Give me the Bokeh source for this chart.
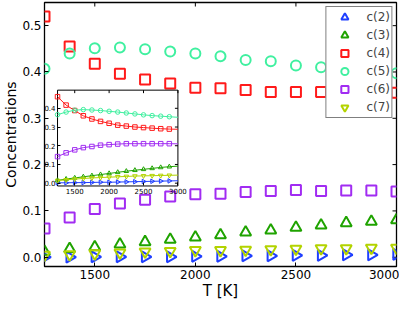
import math
from bokeh.plotting import figure
from bokeh.models import (Range1d, LinearAxis, FixedTicker, PrintfTickFormatter,
                          Legend, LegendItem)
from bokeh.embed import file_html
from bokeh.resources import INLINE

# ---------------- data ----------------
T = [1250, 1375, 1500, 1625, 1750, 1875, 2000, 2125, 2250, 2375, 2500, 2625, 2750, 2875, 3000]

c2 = [0.000, 0.000, 0.001, 0.001, 0.001, 0.001, 0.002, 0.002, 0.003, 0.003, 0.004, 0.004, 0.005, 0.005, 0.006]
c3 = [0.012, 0.018, 0.022, 0.028, 0.033, 0.038, 0.043, 0.048, 0.054, 0.058, 0.064, 0.069, 0.074, 0.077, 0.080]
c4 = [0.520, 0.455, 0.418, 0.396, 0.384, 0.375, 0.366, 0.365, 0.361, 0.357, 0.357, 0.357, 0.356, 0.356, 0.355]
c5 = [0.407, 0.440, 0.451, 0.453, 0.449, 0.444, 0.440, 0.434, 0.426, 0.423, 0.414, 0.410, 0.405, 0.401, 0.397]
c6 = [0.062, 0.086, 0.104, 0.116, 0.124, 0.131, 0.136, 0.137, 0.141, 0.143, 0.145, 0.143, 0.144, 0.144, 0.142]
c7 = [0.005, 0.006, 0.008, 0.010, 0.012, 0.013, 0.015, 0.015, 0.016, 0.017, 0.018, 0.019, 0.019, 0.020, 0.020]

# inset series (same temperatures)
ic2 = [0.002, 0.002, 0.003, 0.003, 0.004, 0.005, 0.005, 0.006, 0.007, 0.008, 0.009, 0.010, 0.011, 0.012, 0.013]
ic3 = [0.015, 0.022, 0.028, 0.034, 0.040, 0.046, 0.052, 0.058, 0.064, 0.069, 0.074, 0.079, 0.084, 0.088, 0.091]
ic4 = [0.462, 0.417, 0.388, 0.360, 0.343, 0.330, 0.320, 0.310, 0.305, 0.300, 0.297, 0.294, 0.291, 0.289, 0.288]
ic5 = [0.366, 0.380, 0.390, 0.393, 0.391, 0.388, 0.384, 0.380, 0.375, 0.370, 0.365, 0.361, 0.358, 0.355, 0.352]
ic6 = [0.142, 0.162, 0.178, 0.190, 0.196, 0.203, 0.206, 0.209, 0.211, 0.211, 0.211, 0.211, 0.211, 0.211, 0.210]
ic7 = [0.014, 0.018, 0.022, 0.025, 0.028, 0.030, 0.032, 0.034, 0.036, 0.038, 0.039, 0.040, 0.041, 0.042, 0.043]

series_labels = ["c(2)", "c(3)", "c(4)", "c(5)", "c(6)", "c(7)"]
x_ticks = [1500, 2000, 2500, 3000]
y_ticks = [0.0, 0.1, 0.2, 0.3, 0.4, 0.5]
inset_x_ticks = [1500, 2000, 2500, 3000]
inset_y_ticks = [0.0, 0.1, 0.2, 0.3, 0.4]

main_series = [c2, c3, c4, c5, c6, c7]
inset_series = [ic2, ic3, ic4, ic5, ic6, ic7]

# ---------------- style ----------------
colors = ["#1f3fff", "#1fa300", "#ff1a1a", "#40f0a0", "#a12cf2", "#b3d300"]
markers = ["triangle", "triangle", "square", "circle", "square", "inverted_triangle"]
angles = [-math.pi / 2, 0, 0, 0, 0, 0]
sizes = [11, 11, 10, 10, 10, 11]
FONT = "DejaVu Sans"

X0, X1 = 1250, 3000
Y0, Y1 = -0.02, 0.55

p = figure(width=399, height=302, output_backend="svg", toolbar_location=None,
           x_range=Range1d(X0, X1), y_range=Range1d(Y0, Y1),
           min_border_left=0, min_border_right=3, min_border_top=2, min_border_bottom=0)
p.grid.visible = False
p.outline_line_color = "black"
p.outline_line_width = 1.3
p.background_fill_color = "white"
p.border_fill_color = "white"

xa = p.xaxis[0]
xa.ticker = FixedTicker(ticks=x_ticks)
xa.formatter = PrintfTickFormatter(format="%d")
xa.axis_label = "T [K]"
ya = p.yaxis[0]
ya.ticker = FixedTicker(ticks=y_ticks)
ya.formatter = PrintfTickFormatter(format="%.1f")
ya.axis_label = "Concentrations"
for ax in (xa, ya):
    ax.axis_line_color = None
    ax.major_tick_in = 4
    ax.major_tick_out = 0
    ax.minor_tick_in = 0
    ax.minor_tick_out = 0
    ax.major_tick_line_color = "black"
    ax.major_label_text_font = FONT
    ax.major_label_text_font_size = "12px"
    ax.major_label_text_color = "black"
    ax.major_label_standoff = 3
    ax.axis_label_text_font = FONT
    ax.axis_label_text_font_style = "normal"
    ax.axis_label_text_color = "black"
    ax.axis_label_standoff = 0
xa.axis_label_text_font_size = "15px"
ya.axis_label_text_font_size = "14px"

# tick marks on top and right of main frame (inward rays, no text)
p.ray(x=x_ticks, y=[Y1] * len(x_ticks), length=4, length_units="screen",
      angle=-math.pi / 2, line_color="black", line_width=1)
p.ray(x=[X1] * len(y_ticks), y=y_ticks, length=4, length_units="screen",
      angle=math.pi, line_color="black", line_width=1)

# main markers
main_renderers = []
for ys, col, mk, ang, sz in zip(main_series, colors, markers, angles, sizes):
    r = p.scatter(T, ys, marker=mk, angle=ang, size=sz, fill_color=None,
                  line_color=col, line_width=2)
    main_renderers.append(r)

# ---------------- inset (drawn in extra ranges) ----------------
ix0, ix1 = 1250, 3000
iy0, iy1 = -0.015, 0.497
fx0, fx1 = 0.037, 0.379
fy0, fy1 = 0.305, 0.668
sx = (ix1 - ix0) / (fx1 - fx0)
sy = (iy1 - iy0) / (fy1 - fy0)
p.extra_x_ranges = {"ix": Range1d(ix0 - fx0 * sx, ix1 + (1 - fx1) * sx)}
p.extra_y_ranges = {"iy": Range1d(iy0 - fy0 * sy, iy1 + (1 - fy1) * sy)}

p.quad(left=[ix0], right=[ix1], bottom=[iy0], top=[iy1], x_range_name="ix", y_range_name="iy",
       fill_color="white", line_color="black", line_width=1)

for ys, col, mk, ang in zip(inset_series, colors, markers, angles):
    p.line(T, ys, x_range_name="ix", y_range_name="iy", line_color=col, line_width=1)
    p.scatter(T[:-1], ys[:-1], x_range_name="ix", y_range_name="iy", marker=mk, angle=ang,
              size=4.5, fill_color=None, line_color=col, line_width=1)

# inset ticks on top and right edges (inward rays)
p.ray(x=inset_x_ticks, y=[iy1] * len(inset_x_ticks), x_range_name="ix", y_range_name="iy",
      length=3, length_units="screen", angle=-math.pi / 2, line_color="black", line_width=1)
p.ray(x=[ix1] * len(inset_y_ticks), y=inset_y_ticks, x_range_name="ix", y_range_name="iy",
      length=3, length_units="screen", angle=math.pi, line_color="black", line_width=1)

def inset_axis(side, ticks, loc, bounds, fmt):
    ax = LinearAxis(x_range_name="ix", y_range_name="iy", fixed_location=loc, bounds=bounds,
                    ticker=FixedTicker(ticks=ticks), formatter=PrintfTickFormatter(format=fmt),
                    axis_line_color=None, major_tick_in=3, major_tick_out=0,
                    minor_tick_in=0, minor_tick_out=0, major_tick_line_color="black",
                    major_label_standoff=2, major_label_text_font=FONT,
                    major_label_text_font_size="7px", major_label_text_color="black")
    p.add_layout(ax, side)

inset_axis("left", inset_y_ticks, ix0, (iy0, iy1), "%.1f")
inset_axis("below", inset_x_ticks, iy0, (ix0, ix1), "%d")

# ---------------- legend ----------------
legend = Legend(items=[LegendItem(label=lab, renderers=[r]) for lab, r in zip(series_labels, main_renderers)],
                location="top_right", margin=4, padding=1, spacing=0,
                glyph_width=34, glyph_height=18, label_height=18, label_standoff=5,
                label_text_font=FONT, label_text_font_size="12px", label_text_baseline="middle",
                border_line_color="black", border_line_width=1,
                background_fill_color="white", background_fill_alpha=1.0)
p.add_layout(legend)

open("out.html", "w").write(file_html(p, INLINE))
